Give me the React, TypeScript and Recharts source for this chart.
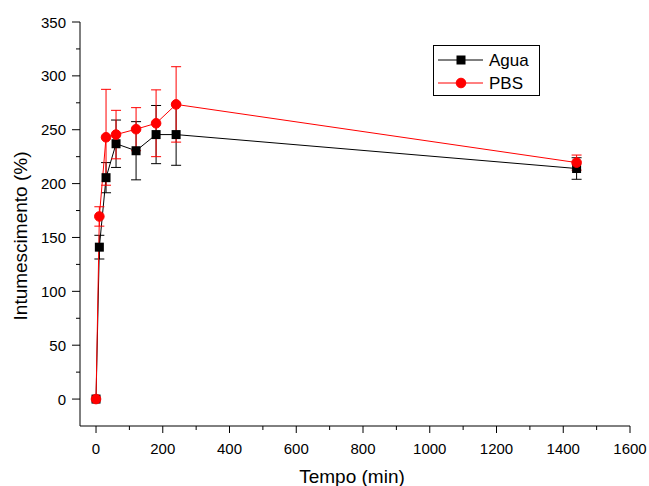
import React from 'react';
import { LineChart, Line, XAxis, YAxis, ErrorBar, Label } from 'recharts';

const times = [0, 10, 30, 60, 120, 180, 240, 1440];
const agua = [0, 141, 205.5, 237, 230.5, 245.5, 245.5, 214];
const aguaErr = [0, 11, 14, 22, 27, 27, 28.5, 10];
const pbs = [0, 169.5, 243, 245.5, 250.5, 256, 273.5, 219.5];
const pbsErr = [0, 9, 44.5, 22.5, 20, 31, 35, 7];

const xTicks = [0, 100, 200, 300, 400, 500, 600, 700, 800, 900, 1000, 1100, 1200, 1300, 1400, 1500, 1600];
const xLabelTicks = [0, 200, 400, 600, 800, 1000, 1200, 1400, 1600];
const yTicks = [0, 25, 50, 75, 100, 125, 150, 175, 200, 225, 250, 275, 300, 325, 350];
const yLabelTicks = [0, 50, 100, 150, 200, 250, 300, 350];

const seriesNames = ['Agua', 'PBS'];
const xTitle = 'Tempo (min)';
const yTitle = 'Intumescimento (%)';

const data = times.map((t, i) => ({
  t,
  agua: agua[i],
  aguaErr: aguaErr[i],
  pbs: pbs[i],
  pbsErr: pbsErr[i],
}));

const FONT = 'Arial, "Liberation Sans", sans-serif';

const XTick = (props: any) => {
  const { x, y, payload } = props;
  const major = xLabelTicks.includes(payload.value);
  return (
    <g>
      <line x1={x} y1={y} x2={x} y2={y + (major ? 7 : 4)} stroke="#000" strokeWidth={1} />
      {major && (
        <text x={x} y={y + 28} textAnchor="middle" fontSize={15} fontFamily={FONT} fill="#000">
          {payload.value}
        </text>
      )}
    </g>
  );
};

const YTick = (props: any) => {
  const { x, y, payload } = props;
  const major = yLabelTicks.includes(payload.value);
  return (
    <g>
      <line x1={x - (major ? 8 : 4)} y1={y} x2={x} y2={y} stroke="#000" strokeWidth={1} />
      {major && (
        <text x={x - 14} y={y + 5.5} textAnchor="end" fontSize={15} fontFamily={FONT} fill="#000">
          {payload.value}
        </text>
      )}
    </g>
  );
};

const SquareDot = (props: any) => {
  const { cx, cy, index } = props;
  if (cx == null || cy == null) return <g key={`sq-${index}`} />;
  return <rect key={`sq-${index}`} x={cx - 4.5} y={cy - 4.5} width={9} height={9} fill="#000" />;
};

const YTitle = (props: any) => {
  const vb = props.viewBox || { x: 0, y: 22, width: 80, height: 404 };
  const cx = vb.x + 27;
  const cy = vb.y + vb.height / 2 + 12;
  return (
    <text
      x={cx}
      y={cy}
      transform={`rotate(-90 ${cx} ${cy})`}
      textAnchor="middle"
      fontSize={19}
      fontFamily={FONT}
      fill="#000"
    >
      {yTitle}
    </text>
  );
};

const XTitle = (props: any) => {
  const vb = props.viewBox || { x: 80, y: 426, width: 550, height: 60 };
  const cx = vb.x + vb.width / 2 - 3;
  const cy = vb.y + vb.height - 3;
  return (
    <text x={cx} y={cy} textAnchor="middle" fontSize={19} fontFamily={FONT} fill="#000">
      {xTitle}
    </text>
  );
};

export default function App() {
  return (
    <div style={{ position: 'absolute', left: 0, top: 0, width: 649, height: 486, background: '#fff', fontFamily: FONT }}>
      <LineChart width={649} height={486} data={data} margin={{ top: 22, right: 19, bottom: 0, left: 0 }}>
        <XAxis
          dataKey="t"
          type="number"
          domain={[-48, 1600]}
          ticks={xTicks}
          interval={0}
          tickLine={false}
          tickSize={0}
          tickMargin={0}
          tick={<XTick />}
          height={60}
          axisLine={{ stroke: '#000', strokeWidth: 1 }}
          allowDataOverflow
        >
          <Label content={<XTitle />} />
        </XAxis>
        <YAxis
          type="number"
          domain={[-25, 350]}
          ticks={yTicks}
          interval={0}
          tickLine={false}
          tickSize={0}
          tickMargin={0}
          tick={<YTick />}
          width={80}
          axisLine={{ stroke: '#000', strokeWidth: 1 }}
          allowDataOverflow
        >
          <Label content={<YTitle />} />
        </YAxis>
        <Line
          type="linear"
          dataKey="agua"
          name={seriesNames[0]}
          stroke="#000"
          strokeWidth={1}
          dot={SquareDot}
          activeDot={false}
          isAnimationActive={false}
        >
          <ErrorBar dataKey="aguaErr" direction="y" width={5} stroke="#000" strokeWidth={1} />
        </Line>
        <Line
          type="linear"
          dataKey="pbs"
          name={seriesNames[1]}
          stroke="#ff0000"
          strokeWidth={1}
          dot={{ r: 4.8, fill: '#ff0000', stroke: '#ff0000', strokeWidth: 1 }}
          activeDot={false}
          isAnimationActive={false}
        >
          <ErrorBar dataKey="pbsErr" direction="y" width={5} stroke="#ff0000" strokeWidth={1} />
        </Line>
      </LineChart>
      <svg
        width={649}
        height={486}
        style={{ position: 'absolute', left: 0, top: 0, pointerEvents: 'none' }}
      >
        <rect x={433.5} y={45.5} width={106} height={50} fill="#fff" stroke="#000" strokeWidth={1} />
        <line x1={438} y1={60} x2={483} y2={60} stroke="#000" strokeWidth={1} />
        <rect x={456.5} y={55.5} width={9} height={9} fill="#000" />
        <text x={489} y={66} fontSize={17} fontFamily={FONT} fill="#000">
          {seriesNames[0]}
        </text>
        <line x1={438} y1={83} x2={483} y2={83} stroke="#ff0000" strokeWidth={1} />
        <circle cx={461} cy={83} r={4.8} fill="#ff0000" stroke="#ff0000" strokeWidth={1} />
        <text x={489} y={89} fontSize={17} fontFamily={FONT} fill="#000">
          {seriesNames[1]}
        </text>
      </svg>
    </div>
  );
}
